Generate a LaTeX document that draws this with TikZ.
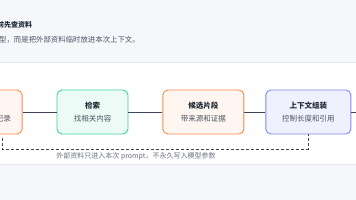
\documentclass[tikz,border=0pt]{standalone}
\usepackage{fontspec}
\setmainfont{Noto Sans CJK SC}
\usetikzlibrary{positioning,calc}
\definecolor{pagebg}{HTML}{F5F7FB}
\definecolor{panelline}{HTML}{E3E7EE}
\definecolor{inkdark}{HTML}{1F2937}
\definecolor{inkgray}{HTML}{4B5563}
\definecolor{notegray}{HTML}{6B7280}
\definecolor{linkslate}{HTML}{3B4558}
\definecolor{recorange}{HTML}{F98B4B}
\definecolor{retrgreen}{HTML}{3DD39B}
\definecolor{ctxviolet}{HTML}{8088F5}
\newcommand{\stagetxt}[2]{{\bfseries\color{inkdark}#1}\\[4pt]{\color{inkgray}#2}}

\begin{document}
\begin{tikzpicture}[
  x=1pt, y=-1pt,
  stage/.style={draw, rectangle, rounded corners=5pt, line width=0.9pt,
                minimum height=44pt, inner sep=2pt, align=center,
                font=\fontsize{7.5}{9}\selectfont},
  link/.style={draw=linkslate, line width=0.9pt},
  dashlink/.style={draw=linkslate, line width=0.8pt, dash pattern=on 3pt off 2pt},
  node distance=34pt
]
  \path[use as bounding box] (0,0) rectangle (356,200);
  \clip (0,0) rectangle (356,200);
  \fill[pagebg] (0,0) rectangle (356,200);
  \filldraw[fill=white, draw=panelline, line width=0.8pt] (-5,62.5) rectangle (361,164.5);

  %% Header
  \node[anchor=west, inner sep=0pt, font=\fontsize{7}{9}\selectfont\bfseries, text=inkdark]
    (title) at (-3,25) {前先查资料};
  \node[anchor=west, inner sep=0pt, font=\fontsize{7.4}{9}\selectfont, text=inkgray]
    (subtitle) at (-1,40) {型，而是把外部资料临时放进本次上下文。};

  %% Components
  \node[stage, fill=retrgreen!10, draw=retrgreen, minimum width=71pt] (retr)
    at (92.5,112) {\stagetxt{检索}{找相关内容}};
  \node[stage, fill=recorange!8, draw=recorange, minimum width=83pt, left=34pt of retr] (rec) {};
  \node[anchor=east, inner sep=0pt, font=\fontsize{7.5}{9}\selectfont, text=inkgray]
    (recnote) at (11,119) {记录};
  \node[stage, fill=recorange!8, draw=recorange, minimum width=81pt, right=34pt of retr] (cand)
    {\stagetxt{候选片段}{带来源和证据}};
  \node[stage, fill=ctxviolet!12, draw=ctxviolet, minimum width=85pt, right=21pt of cand] (ctx)
    {\stagetxt{上下文组装}{控制长度和引用}};

  \coordinate (recdrop) at (2,138);
  \coordinate (onward) at (362,112);

  %% Arrows
  \draw[link] (rec) -- (retr);
  \draw[link] (retr) -- (cand);
  \draw[link] (cand) -- (ctx);
  \draw[link] (ctx) -- (onward);
  \draw[dashlink] (recdrop) -- ++(0,11) -| (ctx.south);

  \node[font=\fontsize{7}{9}\selectfont, text=notegray] (note) at (136,156)
    {外部资料只进入本次 prompt，不永久写入模型参数};
\end{tikzpicture}
\end{document}
